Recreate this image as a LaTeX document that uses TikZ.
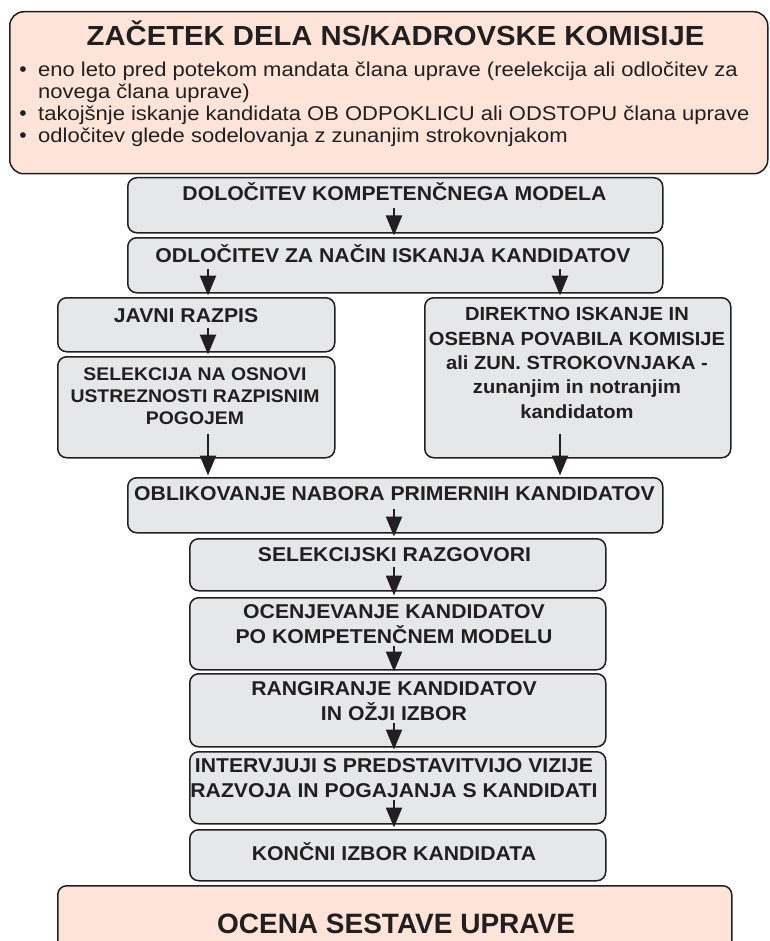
\documentclass[tikz,border=0pt]{standalone}
\usepackage{fontspec}
\setmainfont{Liberation Sans}
\newfontfamily\wideA[FakeStretch=1.1]{Liberation Sans}
\newfontfamily\wideB[FakeStretch=1.06]{Liberation Sans}
\usetikzlibrary{arrows.meta}
\definecolor{salmon}{HTML}{FDE3D8}
\definecolor{boxgray}{HTML}{E6E7E8}
\definecolor{ink}{HTML}{231F20}
\begin{document}
\begin{tikzpicture}[x=1pt,y=-1pt,
  box/.style={draw=ink, line width=1.5pt, rounded corners=9pt, anchor=north west, inner sep=0pt},
  pinkbox/.style={box, fill=salmon},
  graybox/.style={box, fill=boxgray},
  btxt/.style={font=\wideB\bfseries\fontsize{20}{25}\selectfont, text=ink, align=center, inner sep=0pt, anchor=base},
  stxt/.style={btxt, font=\wideB\bfseries\fontsize{18.3}{22}\selectfont},
  dtxt/.style={btxt, font=\wideB\bfseries\fontsize{19}{24.3}\selectfont},
  ltxt/.style={font=\wideA\fontsize{20}{22}\selectfont, text=ink, align=left, inner sep=0pt, anchor=base west},
  dot/.style={font=\fontsize{21}{21}\selectfont, text=ink, inner sep=0pt, anchor=base},
  arr/.style={draw=ink, line width=2.2pt, -{Triangle[length=20pt,width=16pt]}, shorten >=1.5pt}]
\useasboundingbox (0,0) rectangle (769,941);
\clip (0,0) rectangle (769,941);
% top box
\node[pinkbox, rounded corners=14pt, minimum width=758pt, minimum height=162pt] (top) at (9,11) {};
\node[btxt, font=\wideB\bfseries\fontsize{27.6}{30}\selectfont] (title) at (395.5,46) {ZAČETEK DELA NS/KADROVSKE KOMISIJE};
\node[dot] (d1) at (23,77) {\textbullet};
\node[ltxt] (i1) at (38,99) {eno leto pred potekom mandata člana uprave (reelekcija ali odločitev za\\novega člana uprave)};
\node[dot] (d2) at (23,121) {\textbullet};
\node[ltxt] (i2) at (38,121) {takojšnje iskanje kandidata OB ODPOKLICU ali ODSTOPU člana uprave};
\node[dot] (d3) at (23,143) {\textbullet};
\node[ltxt] (i3) at (38,143) {odločitev glede sodelovanja z zunanjim strokovnjakom};
% gray boxes
\node[graybox, minimum width=535pt, minimum height=55pt] (dol) at (127,177) {};
\node[btxt] (doltx) at (394.5,201) {DOLOČITEV KOMPETENČNEGA MODELA};
\node[graybox, minimum width=535pt, minimum height=55pt] (odl) at (127,237) {};
\node[btxt] (odltx) at (393,262) {ODLOČITEV ZA NAČIN ISKANJA KANDIDATOV};
\node[graybox, minimum width=277pt, minimum height=54pt] (jav) at (57,297) {};
\node[btxt] (javtx) at (186,322) {JAVNI RAZPIS};
\node[graybox, minimum width=277pt, minimum height=101pt] (sel) at (57,356) {};
\node[stxt] (seltx) at (195,424) {SELEKCIJA NA OSNOVI\\USTREZNOSTI RAZPISNIM\\POGOJEM};
\node[graybox, minimum width=306pt, minimum height=160pt] (dir) at (424,297) {};
\node[dtxt] (dirtx) at (577,418) {DIREKTNO ISKANJE IN\\OSEBNA POVABILA KOMISIJE\\ali ZUN. STROKOVNJAKA -\\zunanjim in notranjim\\kandidatom};
\node[graybox, minimum width=535pt, minimum height=55pt] (obl) at (127,477) {};
\node[btxt] (obltx) at (394.5,500) {OBLIKOVANJE NABORA PRIMERNIH KANDIDATOV};
\node[graybox, minimum width=416pt, minimum height=52pt] (slk) at (189,538) {};
\node[btxt] (slktx) at (394.5,561) {SELEKCIJSKI RAZGOVORI};
\node[graybox, minimum width=416pt, minimum height=72pt] (oce) at (189,597) {};
\node[btxt] (ocetx) at (394,643) {OCENJEVANJE KANDIDATOV\\PO KOMPETENČNEM MODELU};
\node[graybox, minimum width=416pt, minimum height=73pt] (rang) at (189,673) {};
\node[btxt] (rangtx) at (394,720) {RANGIRANJE KANDIDATOV\\IN OŽJI IZBOR};
\node[graybox, minimum width=416pt, minimum height=72pt] (int) at (189,751) {};
\node[btxt] (inttx) at (394,797) {INTERVJUJI S PREDSTAVITVIJO VIZIJE\\RAZVOJA IN POGAJANJA S KANDIDATI};
\node[graybox, minimum width=416pt, minimum height=51pt] (kon) at (189,829) {};
\node[btxt] (kontx) at (394,860) {KONČNI IZBOR KANDIDATA};
% bottom box
\node[pinkbox, minimum width=674pt, minimum height=80pt] (bot) at (57,885) {};
\node[btxt, font=\bfseries\fontsize{28}{30}\selectfont] (bottx) at (396,933) {OCENA SESTAVE UPRAVE};
% arrow columns
\coordinate (cx) at (394,0);
\coordinate (lx) at (208,0);
\coordinate (rx) at (560,0);
\draw[arr] ([yshift=25pt]dol.south -| cx) -- (odl.north -| cx);
\draw[arr] ([yshift=25pt]odl.south -| lx) -- (jav.north -| lx);
\draw[arr] ([yshift=25pt]odl.south -| rx) -- (dir.north -| rx);
\draw[arr] ([yshift=25pt]jav.south -| lx) -- (sel.north -| lx);
\draw[arr] ([yshift=25pt]sel.south -| lx) -- (obl.north -| lx);
\draw[arr] ([yshift=25pt]dir.south -| rx) -- (obl.north -| rx);
\draw[arr] ([yshift=25pt]obl.south -| cx) -- (slk.north -| cx);
\draw[arr] ([yshift=25pt]slk.south -| cx) -- (oce.north -| cx);
\draw[arr] ([yshift=25pt]oce.south -| cx) -- (rang.north -| cx);
\draw[arr] ([yshift=25pt]rang.south -| cx) -- (int.north -| cx);
\draw[arr] ([yshift=25pt]int.south -| cx) -- (kon.north -| cx);
\end{tikzpicture}
\end{document}
